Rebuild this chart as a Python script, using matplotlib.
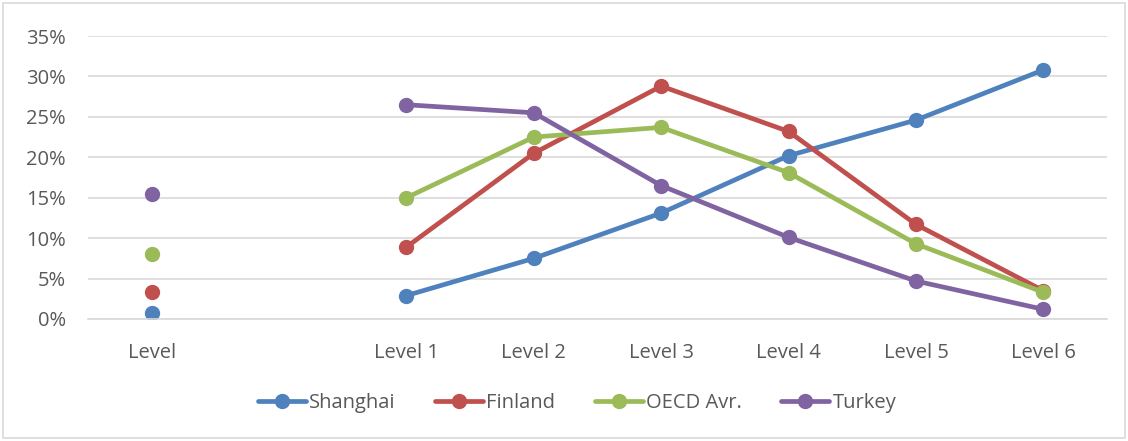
import matplotlib.pyplot as plt
import numpy as np
from matplotlib.patches import Rectangle

plt.rcParams['font.family'] = ['Open Sans', 'DejaVu Sans']

categories = ['Level', '', 'Level 1', 'Level 2', 'Level 3', 'Level 4', 'Level 5', 'Level 6']
nan = np.nan
shanghai = [0.8, nan, 2.9, 7.5, 13.1, 20.2, 24.6, 30.8]
finland = [3.3, nan, 8.9, 20.5, 28.8, 23.2, 11.7, 3.5]
oecd = [8.0, nan, 15.0, 22.5, 23.7, 18.1, 9.3, 3.3]
turkey = [15.5, nan, 26.5, 25.5, 16.5, 10.1, 4.7, 1.2]

series = [('Shanghai', shanghai, '#4F81BD'),
          ('Finland', finland, '#C0504D'),
          ('OECD Avr.', oecd, '#9BBB59'),
          ('Turkey', turkey, '#8064A2')]

fig = plt.figure(figsize=(11.28, 4.41), dpi=100)
ax = fig.add_axes([88/1128, 1 - 319/441, (1107-88)/1128, (319-36)/441])

x = np.arange(len(categories))
for name, vals, col in series:
    ax.plot(x, vals, '-o', color=col, lw=3.4, markersize=10, label=name,
            solid_capstyle='round')

ax.set_xlim(-0.5, len(categories) - 0.5)
ax.set_ylim(0, 35)
ax.set_yticks(range(0, 36, 5))
ax.set_yticklabels([f'{v}%' for v in range(0, 36, 5)])
ax.set_xticks(x)
ax.set_xticklabels(categories)
ax.grid(axis='y', color='#D9D9D9', lw=1.2)
ax.set_axisbelow(True)
for s in ['top', 'right', 'left']:
    ax.spines[s].set_visible(False)
ax.spines['bottom'].set_color('#D9D9D9')
ax.spines['bottom'].set_linewidth(1.2)
ax.tick_params(length=0, labelsize=14.5, colors='#595959')
ax.tick_params(axis='y', pad=16)
ax.tick_params(axis='x', pad=17)

fig.legend(loc='center', bbox_to_anchor=(577/1128, 1 - 403/441), ncol=4,
           frameon=False, fontsize=14.5, labelcolor='#595959',
           handlelength=2.4, handletextpad=0.15, columnspacing=1.95)

fig.patches.append(Rectangle((3/1128, 3/441), 1 - 6/1128, 1 - 6/441,
                             transform=fig.transFigure, fill=False,
                             edgecolor='#D9D9D9', lw=1.2))

fig.savefig('out.png', dpi=100)
